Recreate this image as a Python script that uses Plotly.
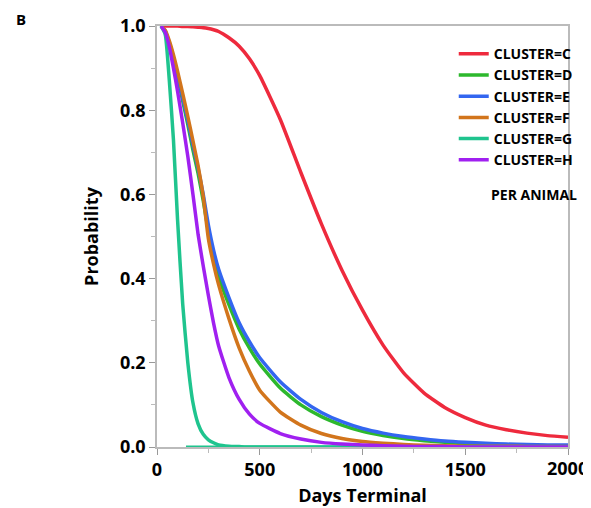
import plotly.graph_objects as go

days = [20, 40, 60, 80, 100, 125, 150, 175, 200, 225, 250, 275, 300, 350, 400,
        450, 500, 600, 700, 800, 900, 1000, 1100, 1200, 1300, 1400, 1500, 1600,
        1700, 1800, 1900, 2000]

cluster_c = [1.0, 1.0, 1.0, 1.0, 1.0, 0.999, 0.999, 0.998, 0.997, 0.996, 0.994, 0.991, 0.987,
             0.972, 0.952, 0.922, 0.882, 0.778, 0.652, 0.53, 0.42, 0.325, 0.242, 0.176, 0.128,
             0.094, 0.07, 0.052, 0.041, 0.033, 0.027, 0.023]
cluster_d = [1.0, 0.987, 0.957, 0.92, 0.878, 0.822, 0.766, 0.705, 0.65, 0.585, 0.512, 0.452,
             0.405, 0.338, 0.28, 0.235, 0.197, 0.14, 0.10, 0.072, 0.052, 0.037, 0.027, 0.02,
             0.015, 0.011, 0.008, 0.006, 0.005, 0.004, 0.003, 0.003]
cluster_e = [1.0, 0.988, 0.96, 0.925, 0.885, 0.83, 0.775, 0.717, 0.662, 0.6, 0.527, 0.468,
             0.422, 0.355, 0.295, 0.25, 0.212, 0.155, 0.113, 0.082, 0.06, 0.044, 0.033, 0.025,
             0.019, 0.014, 0.011, 0.009, 0.007, 0.006, 0.005, 0.005]
cluster_f = [1.0, 0.99, 0.965, 0.932, 0.893, 0.84, 0.785, 0.727, 0.668, 0.595, 0.495, 0.435,
             0.385, 0.305, 0.235, 0.18, 0.135, 0.083, 0.052, 0.032, 0.02, 0.013, 0.009, 0.006,
             0.004, 0.003, 0.002, 0.002, 0.002, 0.001, 0.001, 0.001]
cluster_g = [1.0, 0.98, 0.87, 0.73, 0.54, 0.34, 0.20, 0.105, 0.055, 0.03, 0.017, 0.01,
             0.005, 0.002, 0.001, 0.0, 0.0, 0.0, 0.0, 0.0, 0.0, 0.0, 0.0, 0.0, 0.0, 0.0,
             0.0, 0.0, 0.0, 0.0, 0.0, 0.0]
cluster_h = [1.0, 0.985, 0.95, 0.9, 0.845, 0.77, 0.69, 0.6, 0.505, 0.43, 0.36, 0.295,
             0.24, 0.165, 0.113, 0.078, 0.056, 0.032, 0.019, 0.011, 0.007, 0.005, 0.003, 0.002,
             0.001, 0.001, 0.0, 0.0, 0.0, 0.0, 0.0, 0.0]

g_base_x = [141, 2000]
g_base_y = [0.0, 0.0]

x_tickvals = [0, 500, 1000, 1500, 2000]
x_ticktext = ["0", "500", "1000", "1500", "2000"]
y_tickvals = [0, 0.2, 0.4, 0.6, 0.8, 1.0]

series = [
    ("CLUSTER=C", cluster_c, "#EE2A3D"),
    ("CLUSTER=D", cluster_d, "#2DB82D"),
    ("CLUSTER=E", cluster_e, "#3366F0"),
    ("CLUSTER=F", cluster_f, "#D2751C"),
    ("CLUSTER=G", cluster_g, "#1FC48E"),
    ("CLUSTER=H", cluster_h, "#A020F0"),
]

fig = go.Figure()
fig.add_trace(go.Scatter(x=g_base_x, y=g_base_y, mode="lines", showlegend=False,
                         line=dict(color="#1FC48E", width=3), hoverinfo="skip"))
for name, vals, col in series:
    fig.add_trace(go.Scatter(x=days, y=vals, mode="lines", name=name,
                             line=dict(color=col, width=3.5, shape="spline", smoothing=0.5)))

font_family = "Open Sans, Segoe UI, sans-serif"
tick_font = dict(family=font_family, size=18, color="black", weight="bold")
axis_common = dict(
    showline=True, linecolor="#BBBBBB", linewidth=1.5, mirror=True,
    ticks="outside", ticklen=6, tickcolor="#999999", tickwidth=1,
    showgrid=False, zeroline=False, automargin=False, ticklabeloverflow="allow",
    tickfont=tick_font,
    minor=dict(ticks="outside", ticklen=4, tickcolor="#BBBBBB", showgrid=False),
)
# last x label is drawn as an annotation so it stays inside the window
fig.update_xaxes(range=[0, 2000], tickvals=x_tickvals,
                 ticktext=x_ticktext[:-1] + [""],
                 minor_dtick=250,
                 title=dict(text="Days Terminal", standoff=9,
                            font=dict(family=font_family, size=18, color="black", weight="bold")),
                 **axis_common)
fig.update_yaxes(range=[0, 1.0], tickvals=y_tickvals, tickformat=".1f",
                 minor_dtick=0.1,
                 title=dict(text="Probability", standoff=17,
                            font=dict(family=font_family, size=18, color="black", weight="bold")),
                 **axis_common)

# page body has an 8px default margin, so the figure is sized to fit the window
fig.update_layout(
    width=583, height=500,
    margin=dict(l=149, r=13, t=18, b=61),
    paper_bgcolor="white", plot_bgcolor="white",
    legend=dict(x=0.722, y=0.971, xanchor="left", yanchor="top",
                bgcolor="rgba(0,0,0,0)", tracegroupgap=0, borderwidth=0,
                font=dict(family=font_family, size=14, color="black", weight="bold")),
    annotations=[
        dict(text="PER ANIMAL", x=1.0, y=0.599, xref="paper", yref="paper",
             xanchor="right", yanchor="middle", showarrow=False, xshift=11,
             font=dict(family=font_family, size=14, color="black", weight="bold")),
        dict(text="B", x=-0.349, y=1.017, xref="paper", yref="paper",
             xanchor="left", yanchor="middle", showarrow=False,
             font=dict(family=font_family, size=15, color="black", weight="bold")),
        dict(text=x_ticktext[-1], x=x_tickvals[-1], y=0, xref="x", yref="paper",
             xanchor="right", yanchor="top", showarrow=False, xshift=22, yshift=-7,
             font=tick_font),
    ],
)

fig.write_html("out.html")
